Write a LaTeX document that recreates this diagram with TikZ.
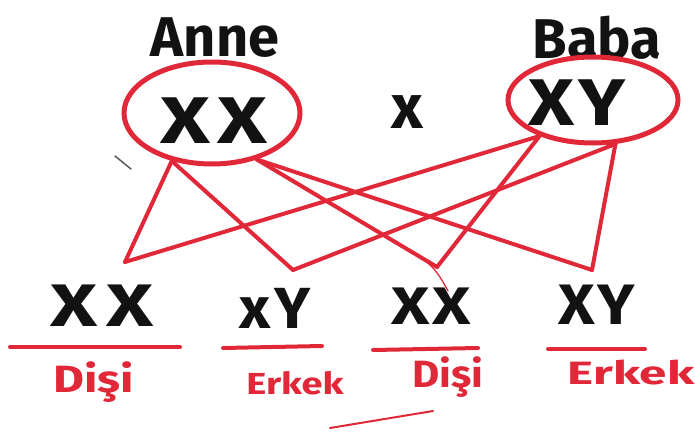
\documentclass[tikz,border=0pt]{standalone}
\usepackage{fontspec}
\usepackage{graphicx}
\setmainfont{Fira Sans}
\usetikzlibrary{shapes.geometric}
\definecolor{marker}{RGB}{224,40,56}
\definecolor{ink}{RGB}{18,18,18}
\tikzset{
  ring/.style={ellipse, draw=marker, line width=5pt, inner sep=0pt},
  link/.style={draw=marker, line width=4pt, line cap=round, line join=round},
  bar/.style={draw=marker, line width=4pt, line cap=round},
  parentname/.style={text=ink, inner sep=0pt, font=\fontsize{56}{56}\selectfont\bfseries},
  genes/.style={text=ink, inner sep=0pt, font=\fontsize{66}{66}\selectfont\bfseries},
  kidgenes/.style={text=ink, inner sep=0pt, font=\fontsize{60}{60}\selectfont\bfseries},
  sexlabel/.style={text=marker, inner sep=0pt, font=\fontsize{38}{38}\selectfont\bfseries},
}
\begin{document}
\begin{tikzpicture}[x=1pt,y=-1pt]
  \useasboundingbox (0,0) rectangle (695,433);

  % parents
  \node[parentname] (annename) at (215,38) {Anne};
  \node[parentname] (babaname) at (597,38) {Baba};
  \node[ring, minimum width=176pt, minimum height=102pt] (anne) at (212,113) {};
  \node[ring, minimum width=170pt, minimum height=86pt] (baba) at (593,100) {};
  \node[genes] (annegenes) at (214,121) {\scalebox{1.3}[1]{X\hspace{6pt}X}};
  \node[genes] (babagenes) at (577,103) {\scalebox{1.2}[1]{X\hspace{4pt}Y}};
  \node[text=ink, inner sep=0pt, font=\fontsize{62}{62}\selectfont\bfseries] (cross) at (407,112) {x};

  % offspring
  \node[kidgenes] (k1) at (102,306) {\scalebox{1.35}[1]{X\hspace{6pt}X}};
  \node[kidgenes] (k2) at (275,308) {\scalebox{1.05}[1]{\fontsize{58}{58}\selectfont x\hspace{3pt}Y}};
  \node[kidgenes] (k3) at (431,306) {\scalebox{1.1}[0.88]{X\hspace{2pt}X}};
  \node[kidgenes] (k4) at (597,305) {\scalebox{1.05}[0.95]{X\hspace{2pt}Y}};

  % tips where the inheritance lines meet each child
  \coordinate (t1) at (125,262);
  \coordinate (t2) at (293,270);
  \coordinate (t3) at (437,267);
  \coordinate (t4) at (592,270);

  % inheritance lines
  \draw[link] (anne.230) -- (t1);
  \draw[link] (anne.230) -- (t2);
  \draw[link] (anne.314) -- (t3);
  \draw[link] (anne.314) -- (t4);
  \draw[link] (baba.214) -- (t1);
  \draw[link] (baba.214) -- (t3);
  \draw[link] (baba.297) -- (t2);
  \draw[link] (baba.297) -- (t4);
  \draw[marker, line width=1.3pt, line cap=round] (412,253) .. controls (432,262) and (440,276) .. (448,291);

  % underlines
  \coordinate (u1a) at (10,347);  \coordinate (u1b) at (180,347);
  \coordinate (u2a) at (223,348); \coordinate (u2b) at (322,346);
  \coordinate (u3a) at (373,350); \coordinate (u3b) at (478,348);
  \coordinate (u4a) at (548,349); \coordinate (u4b) at (645,349);
  \draw[bar] (u1a) -- (u1b);
  \draw[bar] (u2a) -- (u2b);
  \draw[bar] (u3a) -- (u3b);
  \draw[bar] (u4a) -- (u4b);

  % sex labels
  \node[sexlabel] (s1) at (94,382) {\scalebox{1.25}[1]{Dişi}};
  \node[sexlabel] (s2) at (295,383) {\scalebox{1.0}[0.8]{Erkek}};
  \node[sexlabel] (s3) at (448,377) {\scalebox{1.1}[1]{Dişi}};
  \node[sexlabel] (s4) at (631,373) {\scalebox{1.3}[0.85]{Erkek}};

  % stray pen strokes
  \draw[marker, line width=2pt, line cap=round] (330,428) -- (433,411);
  \draw[ink!70, line width=1.5pt, line cap=round] (115,156) -- (131,169);
\end{tikzpicture}
\end{document}
